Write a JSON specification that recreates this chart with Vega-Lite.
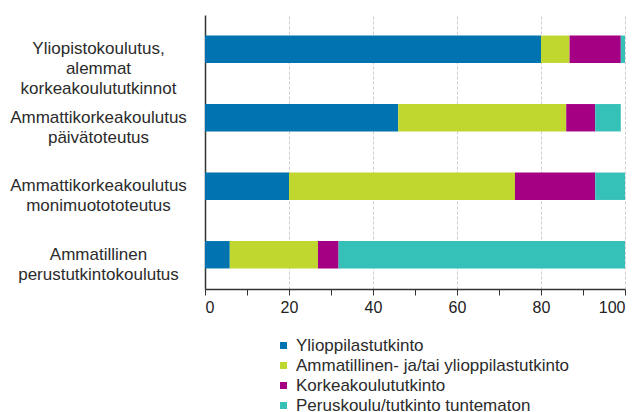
{
  "$schema": "https://vega.github.io/schema/vega-lite/v6.json",
  "width": 420,
  "height": 274,
  "autosize": {"type": "none"},
  "padding": {"left": 205, "top": 15, "right": 17, "bottom": 123},
  "background": "white",
  "data": {
    "values": [
      {"cat": "Yliopistokoulutus,|alemmat|korkeakoulututkinnot", "tausta": "Ylioppilastutkinto", "ord": 1, "pct": 80.0},
      {"cat": "Yliopistokoulutus,|alemmat|korkeakoulututkinnot", "tausta": "Ammatillinen- ja/tai ylioppilastutkinto", "ord": 2, "pct": 6.8},
      {"cat": "Yliopistokoulutus,|alemmat|korkeakoulututkinnot", "tausta": "Korkeakoulututkinto", "ord": 3, "pct": 12.2},
      {"cat": "Yliopistokoulutus,|alemmat|korkeakoulututkinnot", "tausta": "Peruskoulu/tutkinto tuntematon", "ord": 4, "pct": 1.0},
      {"cat": "Ammattikorkeakoulutus|päivätoteutus", "tausta": "Ylioppilastutkinto", "ord": 1, "pct": 46.0},
      {"cat": "Ammattikorkeakoulutus|päivätoteutus", "tausta": "Ammatillinen- ja/tai ylioppilastutkinto", "ord": 2, "pct": 40.0},
      {"cat": "Ammattikorkeakoulutus|päivätoteutus", "tausta": "Korkeakoulututkinto", "ord": 3, "pct": 6.9},
      {"cat": "Ammattikorkeakoulutus|päivätoteutus", "tausta": "Peruskoulu/tutkinto tuntematon", "ord": 4, "pct": 6.1},
      {"cat": "Ammattikorkeakoulutus|monimuotototeutus", "tausta": "Ylioppilastutkinto", "ord": 1, "pct": 20.0},
      {"cat": "Ammattikorkeakoulutus|monimuotototeutus", "tausta": "Ammatillinen- ja/tai ylioppilastutkinto", "ord": 2, "pct": 53.8},
      {"cat": "Ammattikorkeakoulutus|monimuotototeutus", "tausta": "Korkeakoulututkinto", "ord": 3, "pct": 19.1},
      {"cat": "Ammattikorkeakoulutus|monimuotototeutus", "tausta": "Peruskoulu/tutkinto tuntematon", "ord": 4, "pct": 7.1},
      {"cat": "Ammatillinen|perustutkintokoulutus", "tausta": "Ylioppilastutkinto", "ord": 1, "pct": 5.9},
      {"cat": "Ammatillinen|perustutkintokoulutus", "tausta": "Ammatillinen- ja/tai ylioppilastutkinto", "ord": 2, "pct": 21.0},
      {"cat": "Ammatillinen|perustutkintokoulutus", "tausta": "Korkeakoulututkinto", "ord": 3, "pct": 4.9},
      {"cat": "Ammatillinen|perustutkintokoulutus", "tausta": "Peruskoulu/tutkinto tuntematon", "ord": 4, "pct": 68.2}
    ]
  },
  "mark": {"type": "bar"},
  "encoding": {
    "y": {
      "field": "cat",
      "type": "nominal",
      "sort": null,
      "title": null,
      "scale": {"paddingInner": 0.6, "paddingOuter": 0.3},
      "axis": {
        "ticks": false,
        "labelExpr": "split(datum.label, '|')",
        "labelAlign": "center",
        "labelBaseline": "middle",
        "labelPadding": 107,
        "labelFont": "Liberation Sans",
        "labelFontSize": 17,
        "labelLineHeight": 20,
        "labelColor": "#2b2b2b",
        "labelLimit": 0,
        "domainColor": "#333333",
        "domainWidth": 1.5,
        "grid": false
      }
    },
    "x": {
      "field": "pct",
      "type": "quantitative",
      "stack": "zero",
      "title": null,
      "scale": {"domain": [0, 100], "nice": false},
      "axis": {
        "values": [0, 10, 20, 30, 40, 50, 60, 70, 80, 90, 100],
        "labelExpr": "datum.value % 20 == 0 ? datum.label : ''",
        "labelFont": "Liberation Sans",
        "labelFontSize": 16,
        "labelColor": "#222222",
        "labelPadding": 4,
        "tickSize": 6,
        "tickColor": "#333333",
        "domainColor": "#333333",
        "domainWidth": 1.5,
        "grid": true,
        "gridColor": "#cccccc",
        "gridDash": [3, 2],
        "gridOpacity": {"condition": {"test": "datum.value % 20 == 0 && datum.value > 0", "value": 1}, "value": 0}
      }
    },
    "color": {
      "field": "tausta",
      "type": "nominal",
      "scale": {
        "domain": ["Ylioppilastutkinto", "Ammatillinen- ja/tai ylioppilastutkinto", "Korkeakoulututkinto", "Peruskoulu/tutkinto tuntematon"],
        "range": ["#0073b0", "#c0d72f", "#a50084", "#35c0b8"]
      },
      "legend": {
        "title": null,
        "orient": "none",
        "legendX": 70,
        "legendY": 322,
        "direction": "vertical",
        "symbolType": "square",
        "symbolSize": 49,
        "symbolStrokeWidth": 0,
        "symbolOpacity": 1,
        "labelFont": "Liberation Sans",
        "labelFontSize": 17,
        "labelColor": "#2b2b2b",
        "labelOffset": 4,
        "rowPadding": 2,
        "labelLimit": 0
      }
    },
    "order": {"field": "ord", "type": "quantitative"}
  },
  "config": {"view": {"stroke": null}}
}
